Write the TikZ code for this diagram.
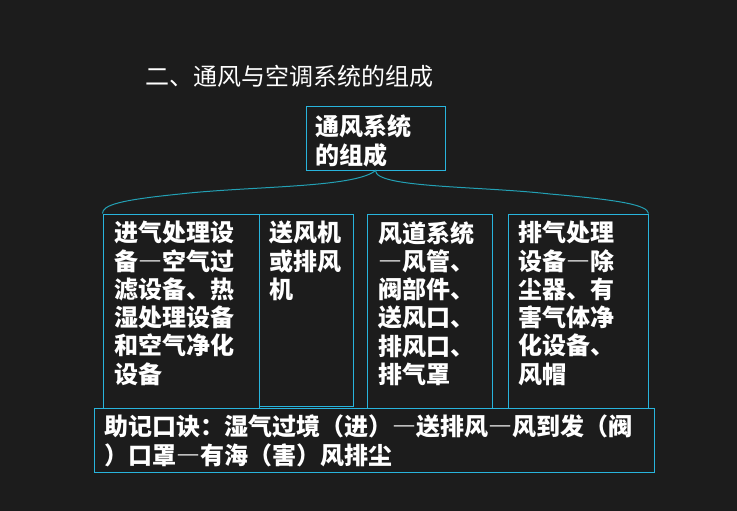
\documentclass[tikz,border=0pt]{standalone}
\usepackage{fontspec}
\newfontfamily\cjk{Noto Sans CJK SC}
\usetikzlibrary{calc}
\definecolor{slide}{RGB}{28,28,28}
\definecolor{boxline}{RGB}{40,180,220}
\definecolor{braceline}{RGB}{35,160,180}
\tikzset{
  frame/.style={draw=boxline,line width=1pt,inner sep=0pt,anchor=north west},
  cell/.style={text=white,font=\cjk\bfseries\fontsize{24pt}{28.3pt}\selectfont,
    align=left,inner sep=0pt,anchor=north west}
}

\begin{document}
\begin{tikzpicture}[x=1pt,y=-1pt]
\fill[slide] (0,0) rectangle (737,511);
\node[cell,font=\cjk\fontsize{24pt}{28pt}\selectfont] (title) at (145,65) {二、通风与空调系统的组成};

% boxes
\node[frame,minimum width=139pt,minimum height=63pt] (top) at (305.5,106.5) {};
\node[frame,minimum width=156pt,minimum height=194pt] (intake) at (102.5,213.5) {};
\node[frame,minimum width=94pt,minimum height=192pt] (fan) at (258.5,213.5) {};
\node[frame,minimum width=125pt,minimum height=194pt] (duct) at (366.5,213.5) {};
\node[frame,minimum width=140pt,minimum height=194pt] (exhaust) at (507.5,213.5) {};
\node[frame,minimum width=560pt,minimum height=64pt] (memo) at (93.5,407.5) {};

% texts
\node[cell,font=\cjk\bfseries\fontsize{24pt}{29pt}\selectfont] (toptext) at (315,114) {通风系统\\的组成};
\node[cell] (intaketext) at (114,221) {进气处理设\\备―空气过\\滤设备、热\\湿处理设备\\和空气净化\\设备};
\node[cell] (fantext) at (269,221) {送风机\\或排风\\机};
\node[cell] (ducttext) at (378,221) {风道系统\\―风管、\\阀部件、\\送风口、\\排风口、\\排气罩};
\node[cell] (exhausttext) at (518,221) {排气处理\\设备―除\\尘器、有\\害气体净\\化设备、\\风帽};
\node[cell] (memotext) at (104,415) {助记口诀：湿气过境（进）―送排风―风到发（阀\\）口罩―有海（害）风排尘};

% brace
\draw[braceline,line width=1pt] (intake.north west)
  .. controls (102.5,205) and (120,200) .. (180,194)
  .. controls (250,186) and (355,188) .. (top.south)
  .. controls (375,188) and (480,186) .. (550,194)
  .. controls (620,200) and (647.5,205) .. (exhaust.north east);
\end{tikzpicture}
\end{document}
